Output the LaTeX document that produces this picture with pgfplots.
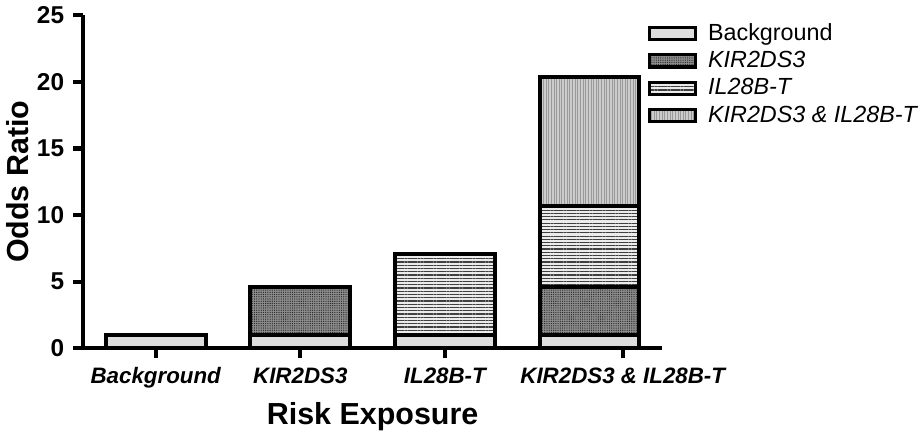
\documentclass[border=0pt]{standalone}
\usepackage{fontspec}
\setmainfont{Liberation Sans}
\usepackage{pgfplots}
\usepackage{pgfplotstable}
\pgfplotsset{compat=1.18}
\usetikzlibrary{patterns.meta}
\pgfplotstableread{
x bg kir il both
0 1 0 0 0
1 1 3.6 0 0
2 1 0 6.05 0
3 1 3.6 6.05 9.7
}\datatable
\tikzset{
  bgsty/.style={fill=black!13, draw=black, line width=2pt},
  kirsty/.style={fill=black!45, draw=black, line width=2pt, postaction={pattern={Dots[distance=1.1pt,radius=0.32pt]}, pattern color=black!85}},
  ilsty/.style={fill=black!8, draw=black, line width=2pt, postaction={pattern={Lines[angle=0,distance=1.6pt,line width=0.6pt]}, pattern color=black!75}},
  bothsty/.style={fill=black!20, draw=black, line width=2pt, postaction={pattern={Lines[angle=90,distance=1.3pt,line width=0.45pt]}, pattern color=black!40}},
}
\begin{document}
\begin{tikzpicture}
\begin{axis}[
  scale only axis,
  width=285pt, height=164pt,
  ybar stacked,
  bar width=0.69,
  xmin=-0.5, xmax=3.5,
  ymin=0, ymax=25,
  ytick={0,5,10,15,20,25},
  xtick={0,1,2,3.23},
  xticklabels={Background, KIR2DS3, IL28B-T, KIR2DS3 \& IL28B-T},
  axis x line*=bottom,
  axis y line*=left,
  axis line style={line width=2pt, -},
  tick style={line width=2pt, black},
  major tick length=5pt,
  tick align=outside,
  /pgf/number format/assume math mode=true,
  yticklabel style={font=\fontsize{12}{14}\selectfont\bfseries, xshift=-1pt},
  xticklabel style={font=\fontsize{11}{13}\selectfont\bfseries\itshape, yshift=-1pt},
  ylabel={Odds Ratio},
  xlabel={Risk Exposure},
  ylabel style={font=\fontsize{15}{17}\selectfont\bfseries, yshift=-3pt},
  xlabel style={font=\fontsize{15}{17}\selectfont\bfseries},
  legend style={draw=none, fill=none, at={(rel axis cs:0.975,0.99)}, anchor=north west,
    font=\fontsize{11.5}{13}\selectfont, row sep=0pt, inner sep=0pt},
  legend cell align=left,
  legend image code/.code={\draw[#1, line width=1.5pt] (0pt,-3pt) rectangle (23pt,3pt); \path (26pt,0pt);},
  clip=false,
]
\addplot[bgsty] table[x=x,y=bg]{\datatable};
\addplot[kirsty] table[x=x,y=kir]{\datatable};
\addplot[ilsty] table[x=x,y=il]{\datatable};
\addplot[bothsty] table[x=x,y=both]{\datatable};
\legend{Background, \itshape KIR2DS3, \itshape IL28B-T, \itshape KIR2DS3 \& IL28B-T}
\end{axis}
\end{tikzpicture}
\end{document}
